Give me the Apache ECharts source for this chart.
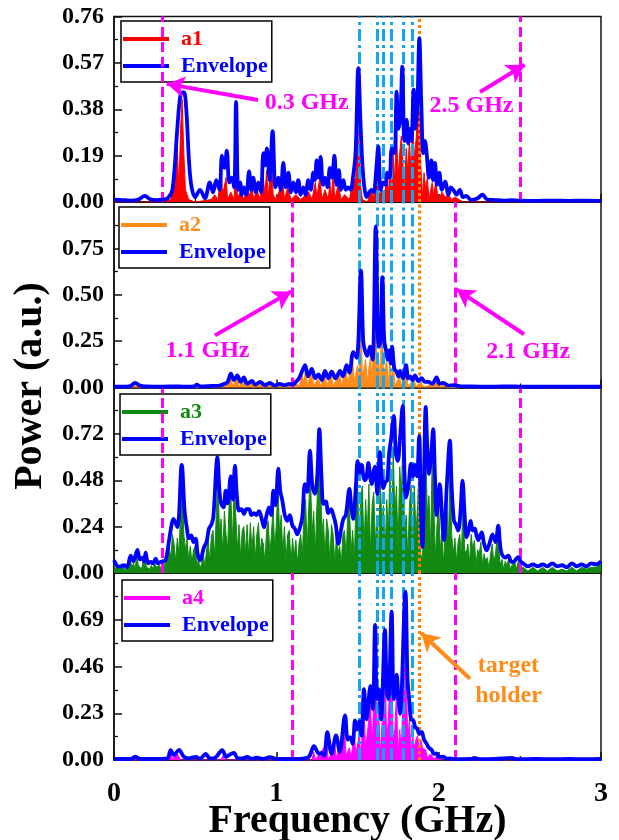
<!DOCTYPE html>
<html><head><meta charset="utf-8">
<script src="https://cdn.jsdelivr.net/npm/echarts@6/dist/echarts.min.js"></script>
<style>html,body{margin:0;padding:0;background:#fff}#c{width:619px;height:840px}</style>
</head><body><div id="c"></div>
<script>
// ---------- axis ticks ----------
const xTicks = [0, 1, 2, 3];
const y1Ticks = [0, 0.19, 0.38, 0.57, 0.76];
const y2Ticks = [0, 0.25, 0.50, 0.75, 1.00];
const y3Ticks = [0, 0.24, 0.48, 0.72, 0.96];
const y4Ticks = [0, 0.23, 0.46, 0.69, 0.92];

// ---------- series names ----------
const seriesNames = ['a1', 'a2', 'a3', 'a4'];

// ---------- panel 1 ----------
const a1 = [[0,0],[0.3,0],[0.35,0.01],[0.38,0.1],[0.39,0.22],[0.40,0.05],[0.41,0.3],[0.42,0.42],[0.43,0.2],[0.44,0.05],[0.46,0.01],[0.5,0],[0.6,0.01],[0.62,0.03],[0.64,0.01],[0.66,0.12],[0.67,0.03],[0.69,0.1],[0.70,0.01],[0.72,0.04],[0.74,0.01],[0.75,0.2],[0.76,0.02],[0.78,0.04],[0.80,0.01],[0.82,0.07],[0.83,0.02],[0.85,0.06],[0.86,0.01],[0.88,0.05],[0.9,0.01],[0.92,0.1],[0.93,0.03],[0.94,0.13],[0.95,0.02],[0.97,0.18],[0.98,0.03],[1.0,0.01],[1.02,0.05],[1.04,0.08],[1.05,0.01],[1.07,0.06],[1.09,0.01],[1.12,0.03],[1.15,0.01],[1.2,0.04],[1.22,0.01],[1.24,0.08],[1.25,0.02],[1.27,0.11],[1.28,0.01],[1.30,0.05],[1.32,0.01],[1.33,0.08],[1.34,0.02],[1.35,0.12],[1.36,0.01],[1.38,0.07],[1.40,0.01],[1.42,0.03],[1.45,0.01],[1.47,0.08],[1.49,0.1],[1.50,0.42],[1.51,0.2],[1.52,0.06],[1.53,0.01],[1.56,0.0],[1.59,0.05],[1.60,0.01],[1.62,0.12],[1.63,0.03],[1.65,0.05],[1.66,0.01],[1.68,0.09],[1.69,0.03],[1.70,0.15],[1.71,0.05],[1.72,0.2],[1.73,0.08],[1.74,0.3],[1.75,0.1],[1.76,0.2],[1.77,0.27],[1.78,0.15],[1.79,0.05],[1.80,0.22],[1.81,0.12],[1.82,0.26],[1.83,0.1],[1.84,0.33],[1.85,0.18],[1.86,0.25],[1.87,0.35],[1.88,0.38],[1.89,0.15],[1.90,0.02],[1.91,0.12],[1.92,0.05],[1.93,0.1],[1.94,0.01],[1.96,0.08],[1.97,0.02],[1.98,0.08],[2.0,0.01],[2.02,0.04],[2.04,0.02],[2.06,0.03],[2.08,0.01],[2.1,0.02],[2.15,0],[3,0]];
const env1 = [[0,0.01],[0.05,0.008],[0.1,0.006],[0.15,0.01],[0.19,0.025],[0.22,0.012],[0.26,0.008],[0.3,0.01],[0.33,0.015],[0.36,0.05],[0.39,0.3],[0.41,0.44],[0.43,0.45],[0.445,0.38],[0.47,0.1],[0.5,0.02],[0.53,0.05],[0.56,0.015],[0.59,0.08],[0.61,0.04],[0.63,0.09],[0.65,0.05],[0.665,0.19],[0.68,0.14],[0.695,0.21],[0.71,0.08],[0.725,0.1],[0.74,0.06],[0.752,0.41],[0.765,0.05],[0.777,0.08],[0.787,0.03],[0.8,0.06],[0.815,0.03],[0.832,0.125],[0.845,0.05],[0.858,0.1],[0.873,0.04],[0.889,0.08],[0.905,0.04],[0.92,0.2],[0.93,0.15],[0.942,0.22],[0.958,0.09],[0.977,0.29],[0.995,0.06],[1.012,0.1],[1.027,0.05],[1.043,0.16],[1.058,0.06],[1.074,0.12],[1.09,0.04],[1.105,0.08],[1.12,0.04],[1.135,0.09],[1.15,0.03],[1.166,0.06],[1.18,0.03],[1.197,0.09],[1.212,0.05],[1.228,0.12],[1.238,0.09],[1.248,0.17],[1.26,0.1],[1.273,0.185],[1.287,0.07],[1.30,0.10],[1.315,0.06],[1.33,0.14],[1.342,0.1],[1.358,0.19],[1.37,0.07],[1.385,0.13],[1.397,0.05],[1.413,0.09],[1.428,0.05],[1.443,0.06],[1.458,0.05],[1.472,0.1],[1.488,0.2],[1.505,0.548],[1.52,0.3],[1.536,0.1],[1.557,0.02],[1.572,0.04],[1.587,0.05],[1.6,0.04],[1.614,0.12],[1.628,0.227],[1.643,0.05],[1.659,0.08],[1.672,0.07],[1.684,0.12],[1.698,0.1],[1.711,0.22],[1.728,0.2],[1.741,0.452],[1.752,0.3],[1.764,0.35],[1.776,0.555],[1.789,0.25],[1.803,0.336],[1.812,0.24],[1.822,0.3],[1.832,0.25],[1.846,0.46],[1.858,0.3],[1.869,0.4],[1.881,0.671],[1.893,0.4],[1.905,0.2],[1.915,0.25],[1.926,0.2],[1.94,0.1],[1.955,0.17],[1.965,0.09],[1.977,0.16],[1.99,0.07],[2.004,0.12],[2.02,0.05],[2.04,0.083],[2.06,0.03],[2.075,0.06],[2.09,0.05],[2.11,0.03],[2.13,0.05],[2.15,0.02],[2.17,0.025],[2.2,0.008],[2.24,0.015],[2.27,0.03],[2.3,0.01],[2.35,0.008],[2.4,0.006],[2.45,0.008],[2.5,0.006],[2.6,0.005],[2.7,0.006],[2.8,0.005],[2.9,0.006],[3.0,0.005]];

// ---------- panel 2 ----------
const a2 = [[0,0],[0.1,0],[0.13,0.015],[0.16,0],[0.5,0],[0.51,0.008],[0.53,0],[0.68,0.005],[0.70,0.02],[0.72,0.06],[0.73,0.01],[0.76,0.05],[0.77,0.005],[0.80,0.04],[0.81,0.005],[0.85,0.025],[0.86,0],[0.9,0.02],[0.92,0],[0.96,0.015],[0.98,0],[1.02,0.01],[1.05,0],[1.12,0.02],[1.14,0.01],[1.16,0.07],[1.17,0.02],[1.18,0.1],[1.19,0.02],[1.22,0.08],[1.23,0.01],[1.26,0.05],[1.27,0.005],[1.30,0.07],[1.31,0.01],[1.34,0.07],[1.35,0.01],[1.39,0.07],[1.40,0.01],[1.43,0.1],[1.44,0.02],[1.47,0.15],[1.48,0.03],[1.50,0.12],[1.51,0.02],[1.52,0.5],[1.53,0.05],[1.55,0.15],[1.56,0.03],[1.58,0.17],[1.59,0.02],[1.61,0.7],[1.62,0.08],[1.63,0.15],[1.64,0.02],[1.65,0.45],[1.66,0.05],[1.68,0.15],[1.69,0.02],[1.70,0.14],[1.71,0.04],[1.72,0.16],[1.73,0.01],[1.76,0.06],[1.77,0.01],[1.80,0.09],[1.81,0.01],[1.85,0.04],[1.86,0.005],[1.89,0.03],[1.91,0],[1.99,0.035],[2.01,0],[2.03,0.015],[2.05,0],[3,0]];
const env2 = [[0,0.005],[0.05,0.005],[0.1,0.008],[0.13,0.025],[0.16,0.01],[0.2,0.006],[0.3,0.005],[0.4,0.006],[0.45,0.004],[0.5,0.008],[0.51,0.015],[0.53,0.006],[0.6,0.008],[0.65,0.01],[0.68,0.02],[0.70,0.03],[0.72,0.075],[0.74,0.04],[0.76,0.065],[0.78,0.03],[0.80,0.055],[0.82,0.02],[0.85,0.035],[0.87,0.015],[0.9,0.03],[0.93,0.012],[0.96,0.025],[0.99,0.01],[1.02,0.02],[1.05,0.012],[1.08,0.02],[1.1,0.015],[1.12,0.03],[1.14,0.05],[1.16,0.09],[1.177,0.12],[1.195,0.06],[1.218,0.1],[1.24,0.05],[1.259,0.07],[1.28,0.04],[1.30,0.09],[1.32,0.05],[1.341,0.085],[1.365,0.05],[1.392,0.09],[1.41,0.06],[1.433,0.12],[1.45,0.08],[1.474,0.19],[1.495,0.16],[1.521,0.63],[1.535,0.25],[1.546,0.2],[1.56,0.17],[1.577,0.22],[1.593,0.15],[1.612,0.868],[1.625,0.3],[1.632,0.22],[1.642,0.25],[1.653,0.595],[1.665,0.25],[1.676,0.2],[1.686,0.15],[1.696,0.2],[1.705,0.13],[1.713,0.22],[1.727,0.1],[1.741,0.085],[1.752,0.06],[1.762,0.09],[1.78,0.05],[1.799,0.12],[1.812,0.05],[1.823,0.06],[1.838,0.04],[1.854,0.065],[1.875,0.035],[1.895,0.05],[1.915,0.03],[1.936,0.03],[1.96,0.02],[1.987,0.055],[2.005,0.02],[2.029,0.025],[2.06,0.01],[2.09,0.012],[2.15,0.006],[2.2,0.006],[2.3,0.004],[2.4,0.006],[2.5,0.005],[2.6,0.004],[2.7,0.005],[2.8,0.004],[2.9,0.005],[3,0.004]];

// ---------- panel 3 ----------
const a3 = [[0.00,0.05],[0.01,0.02],[0.02,0.04],[0.03,0.01],[0.04,0.03],[0.05,0.02],[0.06,0.03],[0.07,0.01],[0.08,0.02],[0.09,0.05],[0.10,0.07],[0.11,0.03],[0.12,0.05],[0.13,0.02],[0.14,0.09],[0.15,0.04],[0.16,0.05],[0.17,0.02],[0.18,0.06],[0.19,0.08],[0.20,0.03],[0.21,0.04],[0.22,0.02],[0.23,0.04],[0.24,0.02],[0.25,0.05],[0.26,0.03],[0.27,0.02],[0.28,0.04],[0.29,0.02],[0.30,0.03],[0.31,0.04],[0.32,0.05],[0.33,0.09],[0.34,0.13],[0.35,0.08],[0.36,0.2],[0.37,0.15],[0.38,0.06],[0.39,0.18],[0.40,0.1],[0.41,0.3],[0.42,0.48],[0.43,0.2],[0.44,0.12],[0.45,0.18],[0.46,0.06],[0.47,0.14],[0.48,0.05],[0.49,0.12],[0.50,0.14],[0.51,0.04],[0.52,0.07],[0.53,0.02],[0.54,0.05],[0.55,0.1],[0.56,0.03],[0.57,0.12],[0.58,0.17],[0.59,0.06],[0.60,0.19],[0.61,0.22],[0.62,0.08],[0.63,0.3],[0.64,0.5],[0.65,0.2],[0.66,0.28],[0.67,0.1],[0.68,0.32],[0.69,0.2],[0.70,0.12],[0.71,0.38],[0.72,0.4],[0.73,0.15],[0.74,0.45],[0.75,0.3],[0.76,0.12],[0.77,0.25],[0.78,0.08],[0.79,0.22],[0.80,0.24],[0.81,0.1],[0.82,0.25],[0.83,0.08],[0.84,0.26],[0.85,0.12],[0.86,0.24],[0.87,0.07],[0.88,0.2],[0.89,0.26],[0.90,0.1],[0.91,0.18],[0.92,0.15],[0.93,0.05],[0.94,0.22],[0.95,0.27],[0.96,0.1],[0.97,0.2],[0.98,0.35],[0.99,0.12],[1.00,0.25],[1.01,0.45],[1.02,0.2],[1.03,0.3],[1.04,0.1],[1.05,0.24],[1.06,0.06],[1.07,0.2],[1.08,0.22],[1.09,0.05],[1.10,0.18],[1.11,0.08],[1.12,0.17],[1.13,0.05],[1.14,0.15],[1.15,0.2],[1.16,0.08],[1.17,0.3],[1.18,0.38],[1.19,0.12],[1.20,0.35],[1.21,0.52],[1.22,0.2],[1.23,0.32],[1.24,0.1],[1.25,0.35],[1.26,0.55],[1.27,0.6],[1.28,0.2],[1.29,0.28],[1.30,0.08],[1.31,0.28],[1.32,0.22],[1.33,0.06],[1.34,0.25],[1.35,0.2],[1.36,0.05],[1.37,0.18],[1.38,0.1],[1.39,0.14],[1.40,0.04],[1.41,0.2],[1.42,0.22],[1.43,0.08],[1.44,0.3],[1.45,0.36],[1.46,0.1],[1.47,0.22],[1.48,0.06],[1.49,0.35],[1.50,0.48],[1.51,0.15],[1.52,0.4],[1.53,0.45],[1.54,0.12],[1.55,0.38],[1.56,0.2],[1.57,0.46],[1.58,0.1],[1.59,0.35],[1.60,0.42],[1.61,0.15],[1.62,0.3],[1.63,0.08],[1.64,0.5],[1.65,0.25],[1.66,0.35],[1.67,0.1],[1.68,0.38],[1.69,0.2],[1.70,0.55],[1.71,0.15],[1.72,0.65],[1.73,0.3],[1.74,0.45],[1.75,0.12],[1.76,0.55],[1.77,0.4],[1.78,0.7],[1.79,0.2],[1.80,0.3],[1.81,0.08],[1.82,0.35],[1.83,0.45],[1.84,0.12],[1.85,0.45],[1.86,0.2],[1.87,0.35],[1.88,0.58],[1.89,0.1],[1.90,0.05],[1.91,0.35],[1.92,0.7],[1.93,0.3],[1.94,0.4],[1.95,0.12],[1.96,0.6],[1.97,0.35],[1.98,0.08],[1.99,0.25],[2.00,0.36],[2.01,0.12],[2.02,0.2],[2.03,0.05],[2.04,0.2],[2.05,0.35],[2.06,0.15],[2.07,0.55],[2.08,0.2],[2.09,0.1],[2.10,0.18],[2.11,0.06],[2.12,0.16],[2.13,0.2],[2.14,0.08],[2.15,0.38],[2.16,0.12],[2.17,0.1],[2.18,0.15],[2.19,0.05],[2.20,0.2],[2.21,0.12],[2.22,0.17],[2.23,0.04],[2.24,0.12],[2.25,0.1],[2.26,0.16],[2.27,0.04],[2.28,0.1],[2.29,0.06],[2.30,0.08],[2.31,0.02],[2.32,0.1],[2.33,0.15],[2.34,0.05],[2.35,0.1],[2.36,0.18],[2.37,0.12],[2.38,0.04],[2.39,0.07],[2.40,0.02],[2.41,0.06],[2.42,0.04],[2.43,0.07],[2.44,0.02],[2.45,0.04],[2.46,0.03],[2.47,0.05],[2.48,0.02],[2.49,0.06],[2.50,0.02],[2.52,0.03],[2.55,0.01],[2.58,0.03],[2.61,0.01],[2.64,0.03],[2.67,0.01],[2.70,0.03],[2.73,0.01],[2.76,0.02],[2.79,0.01],[2.82,0.03],[2.85,0.01],[2.88,0.03],[2.91,0.02],[2.94,0.03],[2.97,0.03],[3.00,0.05]];
const env3 = [[0,0.066],[0.031,0.032],[0.062,0.04],[0.08,0.03],[0.103,0.09],[0.12,0.06],[0.144,0.12],[0.16,0.07],[0.175,0.08],[0.185,0.06],[0.195,0.105],[0.21,0.05],[0.226,0.057],[0.24,0.05],[0.257,0.074],[0.27,0.05],[0.287,0.057],[0.3,0.06],[0.318,0.066],[0.339,0.168],[0.355,0.25],[0.366,0.28],[0.39,0.237],[0.417,0.56],[0.435,0.32],[0.448,0.237],[0.462,0.18],[0.476,0.195],[0.49,0.16],[0.503,0.178],[0.515,0.1],[0.53,0.066],[0.554,0.133],[0.57,0.16],[0.585,0.23],[0.6,0.25],[0.612,0.29],[0.637,0.60],[0.65,0.42],[0.661,0.357],[0.675,0.34],[0.688,0.426],[0.70,0.36],[0.719,0.50],[0.732,0.38],[0.745,0.555],[0.757,0.4],[0.77,0.323],[0.785,0.33],[0.80,0.306],[0.815,0.33],[0.832,0.33],[0.847,0.3],[0.862,0.31],[0.878,0.3],[0.893,0.32],[0.91,0.28],[0.924,0.237],[0.94,0.3],[0.955,0.34],[0.968,0.3],[0.982,0.426],[0.995,0.35],[1.012,0.54],[1.025,0.42],[1.037,0.375],[1.052,0.3],[1.068,0.27],[1.083,0.3],[1.099,0.245],[1.114,0.23],[1.129,0.20],[1.146,0.237],[1.16,0.29],[1.176,0.46],[1.19,0.42],[1.207,0.633],[1.222,0.45],[1.238,0.41],[1.252,0.5],[1.265,0.745],[1.278,0.5],[1.29,0.357],[1.305,0.37],[1.32,0.31],[1.337,0.33],[1.351,0.3],[1.366,0.25],[1.382,0.15],[1.398,0.22],[1.413,0.28],[1.428,0.3],[1.45,0.435],[1.462,0.34],[1.474,0.28],[1.49,0.45],[1.501,0.58],[1.514,0.52],[1.526,0.56],[1.536,0.5],[1.546,0.48],[1.556,0.5],[1.567,0.57],[1.577,0.5],[1.587,0.46],[1.597,0.52],[1.608,0.55],[1.615,0.48],[1.622,0.41],[1.638,0.625],[1.648,0.5],[1.659,0.44],[1.671,0.47],[1.683,0.48],[1.695,0.62],[1.708,0.7],[1.724,0.813],[1.736,0.62],[1.748,0.58],[1.762,0.7],[1.778,0.865],[1.79,0.5],[1.799,0.39],[1.814,0.45],[1.829,0.564],[1.842,0.5],[1.854,0.56],[1.866,0.5],[1.88,0.71],[1.89,0.35],[1.9,0.134],[1.91,0.5],[1.92,0.86],[1.93,0.65],[1.94,0.513],[1.953,0.6],[1.966,0.745],[1.977,0.5],[1.987,0.3],[1.997,0.38],[2.007,0.46],[2.02,0.3],[2.032,0.17],[2.05,0.45],[2.069,0.685],[2.08,0.45],[2.094,0.27],[2.107,0.25],[2.12,0.22],[2.133,0.3],[2.147,0.478],[2.16,0.3],[2.172,0.185],[2.185,0.22],[2.197,0.27],[2.21,0.22],[2.223,0.23],[2.234,0.19],[2.244,0.17],[2.254,0.19],[2.264,0.21],[2.28,0.15],[2.295,0.117],[2.312,0.15],[2.332,0.2],[2.35,0.16],[2.367,0.245],[2.378,0.15],[2.388,0.1],[2.41,0.08],[2.429,0.09],[2.445,0.06],[2.46,0.057],[2.475,0.07],[2.49,0.082],[2.505,0.06],[2.52,0.05],[2.55,0.035],[2.58,0.045],[2.61,0.035],[2.64,0.045],[2.67,0.035],[2.7,0.05],[2.73,0.035],[2.76,0.04],[2.79,0.03],[2.82,0.05],[2.85,0.035],[2.88,0.045],[2.91,0.035],[2.94,0.05],[2.97,0.045],[3.0,0.06]];

// ---------- panel 4 ----------
const a4 = [[0,0],[0.33,0],[0.35,0.03],[0.36,0.005],[0.39,0.03],[0.41,0],[0.66,0],[0.67,0.02],[0.68,0],[1.22,0],[1.23,0.04],[1.24,0],[1.31,0.08],[1.32,0],[1.36,0.07],[1.37,0.01],[1.42,0.14],[1.43,0.02],[1.45,0.06],[1.46,0.01],[1.48,0.12],[1.49,0.03],[1.51,0.12],[1.52,0.02],[1.54,0.25],[1.55,0.05],[1.57,0.2],[1.58,0.28],[1.59,0.05],[1.60,0.3],[1.61,0.5],[1.62,0.1],[1.63,0.25],[1.64,0.02],[1.66,0.3],[1.67,0.45],[1.68,0.08],[1.69,0.2],[1.70,0.4],[1.71,0.55],[1.72,0.1],[1.73,0.15],[1.74,0.32],[1.75,0.02],[1.76,0.15],[1.77,0.05],[1.78,0.3],[1.79,0.6],[1.80,0.4],[1.81,0.1],[1.82,0.2],[1.83,0.02],[1.84,0.12],[1.85,0.06],[1.86,0.1],[1.87,0.12],[1.88,0.04],[1.89,0.1],[1.90,0.06],[1.92,0.05],[1.93,0.01],[1.95,0.03],[1.97,0.005],[1.99,0.02],[2.01,0],[3,0]];
const env4 = [[0,0.005],[0.1,0.005],[0.133,0.016],[0.16,0.005],[0.3,0.006],[0.33,0.008],[0.349,0.049],[0.37,0.024],[0.40,0.05],[0.43,0.016],[0.46,0.008],[0.503,0.015],[0.53,0.006],[0.565,0.03],[0.59,0.008],[0.62,0.01],[0.667,0.049],[0.69,0.015],[0.7,0.02],[0.739,0.035],[0.76,0.01],[0.79,0.008],[0.82,0.015],[0.85,0.006],[0.88,0.012],[0.92,0.005],[0.96,0.014],[1.0,0.006],[1.05,0.005],[1.1,0.005],[1.15,0.006],[1.2,0.015],[1.232,0.068],[1.263,0.032],[1.28,0.035],[1.295,0.02],[1.314,0.137],[1.34,0.03],[1.368,0.121],[1.39,0.04],[1.423,0.219],[1.44,0.1],[1.454,0.113],[1.47,0.08],[1.485,0.195],[1.498,0.15],[1.511,0.19],[1.525,0.12],[1.54,0.349],[1.556,0.2],[1.58,0.365],[1.595,0.25],[1.608,0.665],[1.62,0.3],[1.632,0.349],[1.645,0.2],[1.669,0.64],[1.68,0.35],[1.69,0.3],[1.71,0.73],[1.724,0.3],[1.741,0.42],[1.752,0.3],[1.762,0.227],[1.795,0.828],[1.808,0.4],[1.818,0.3],[1.83,0.2],[1.844,0.195],[1.856,0.16],[1.868,0.154],[1.88,0.13],[1.895,0.138],[1.91,0.1],[1.926,0.08],[1.94,0.06],[1.957,0.049],[1.97,0.03],[1.987,0.032],[2.0,0.015],[2.03,0.016],[2.05,0.006],[2.07,0.008],[2.1,0.004],[2.2,0.005],[2.22,0.01],[2.25,0.004],[2.35,0.005],[2.45,0.01],[2.48,0.004],[2.6,0.005],[2.7,0.004],[2.8,0.005],[2.9,0.004],[3.0,0.005]];

// ---------- reference lines (GHz) ----------
const cyanLines = [1.51, 1.62, 1.66, 1.71, 1.78, 1.84];
const holderLine = [1.88];
const bandLines = [[0.3, 2.5], [1.1, 2.1], [0.3, 2.5], [1.1, 2.1]];

// ---------- annotations (data coordinates) ----------
const annotations = [
  [{text:'0.3 GHz', at:[1.187,0.406], from:[0.887,0.418], to:[0.325,0.484]},
   {text:'2.5 GHz', at:[2.202,0.394], from:[2.255,0.451], to:[2.53,0.562]}],
  [{text:'1.1 GHz', at:[0.576,0.20], from:[0.622,0.281], to:[1.092,0.518]},
   {text:'2.1 GHz', at:[2.552,0.19], from:[2.526,0.287], to:[2.11,0.529]}],
  [],
  [{text:'target\nholder', at:[2.43,0.39], from:[2.193,0.40], to:[1.892,0.625], color:'#ff8c1a'}]
];

// ---------- styles ----------
const FONT = '"Times New Roman","Liberation Serif",serif';
const fillColors = ['#ff0000', '#ff8c1a', '#128a12', '#ff00ff'];
const envColor = '#0000ff';
const gridTops = [16.5, 202, 387.5, 573];
const gridHeights = [185.5, 185.5, 185.5, 187];
const legendPos = [[121,21],[119,207],[120,394],[122,580]];
const fills = [a1, a2, a3, a4];
const envs = [env1, env2, env3, env4];
const yTicksAll = [y1Ticks, y2Ticks, y3Ticks, y4Ticks];

const grids = [], xAxes = [], yAxes = [], series = [], legends = [];
for (let i = 0; i < 4; i++) {
  grids.push({left:114, right:18, top:gridTops[i], height:gridHeights[i], show:true,
    borderColor:'#111', borderWidth:1.5, backgroundColor:'transparent', outerBoundsMode:'none'});
  xAxes.push({type:'value', gridIndex:i, min:xTicks[0], max:xTicks[xTicks.length-1], interval:xTicks[1]-xTicks[0],
    axisLine:{show:true, onZero:false, lineStyle:{color:'#111', width:1.5}},
    axisTick:{show:true, inside:true, length:8, lineStyle:{color:'#111', width:1.5}},
    minorTick:{show:true, splitNumber:2, length:4, lineStyle:{color:'#111', width:1.3}},
    splitLine:{show:false},
    axisLabel:{show:i===3, fontFamily:FONT, fontWeight:'bold', fontSize:28, color:'#000', margin:20},
    name: i===3 ? 'Frequency (GHz)' : '', nameLocation:'middle', nameGap:42, nameMoveOverlap:false,
    nameTextStyle:{fontFamily:FONT, fontWeight:'bold', fontSize:40, color:'#000'}});
  const yt = yTicksAll[i], ymax = yt[yt.length-1];
  yAxes.push({type:'value', gridIndex:i, min:yt[0], max:ymax, interval:yt[1]-yt[0],
    axisLine:{show:true, lineStyle:{color:'#111', width:1.5}},
    axisTick:{show:true, inside:true, length:8, lineStyle:{color:'#111', width:1.5}},
    minorTick:{show:true, splitNumber:2, length:4, lineStyle:{color:'#111', width:1.3}},
    splitLine:{show:false},
    axisLabel:{fontFamily:FONT, fontWeight:'bold', fontSize:24, color:'#000', margin:10,
      formatter: v => (i > 0 && Math.abs(v - ymax) < 1e-9) ? '' : v.toFixed(2)}});

  const mlData = [];
  bandLines[i].forEach(v => mlData.push({xAxis:v, lineStyle:{color:'#ff00ff', width:3, type:[10,5]}}));
  cyanLines.forEach(v => mlData.push({xAxis:v, lineStyle:{color:'#12a6f0', width:3, type:[12,4,3,4]}}));
  holderLine.forEach(v => mlData.push({xAxis:v, lineStyle:{color:'#ff8000', width:3, type:[3,3]}}));

  series.push({type:'line', name:seriesNames[i], xAxisIndex:i, yAxisIndex:i, data:fills[i],
    symbol:'none', showSymbol:false, color:fillColors[i], itemStyle:{color:fillColors[i]},
    lineStyle:{width:1, color:fillColors[i]}, areaStyle:{color:fillColors[i], opacity:1}, z:2,
    markLine:{silent:true, symbol:['none','none'], label:{show:false}, data:mlData}});

  const arrowData = [], textData = [];
  annotations[i].forEach(a => {
    const c = a.color || '#ff00ff';
    arrowData.push([{coord:a.from, symbol:'none', lineStyle:{color:c, width:4, type:'solid'}},
                    {coord:a.to, symbol:'arrow', symbolSize:[16,18]}]);
    textData.push({name:a.text, coord:a.at, symbol:'rect', symbolSize:1, itemStyle:{color:'rgba(0,0,0,0)'},
      label:{show:true, position:'inside', formatter:'{b}', color:c, fontFamily:FONT, fontWeight:'bold', fontSize:24, lineHeight:30}});
  });

  series.push({type:'line', name:'Envelope', xAxisIndex:i, yAxisIndex:i, data:envs[i],
    symbol:'none', showSymbol:false, smooth:0.35, color:envColor, itemStyle:{color:envColor},
    lineStyle:{width:3.8, color:envColor}, z:6,
    markLine:{silent:true, symbol:['none','none'], label:{show:false}, data:arrowData, z:8},
    markPoint:{silent:true, data:textData, z:8}});

  legends.push({left:legendPos[i][0], top:legendPos[i][1], orient:'vertical', selectedMode:false,
    icon:'rect', itemWidth:46, itemHeight:4, itemGap:5, padding:[7,4,5,2],
    borderColor:'#000', borderWidth:1.5, backgroundColor:'#fff',
    textStyle:{fontFamily:FONT, fontWeight:'bold', fontSize:22, padding:[0,0,0,7]},
    data:[{name:seriesNames[i], itemStyle:{color:fillColors[i]}, textStyle:{color:fillColors[i]}},
          {name:'Envelope', itemStyle:{color:envColor}, textStyle:{color:envColor}}]});
}

const chart = echarts.init(document.getElementById('c'), null, {renderer:'canvas'});
chart.setOption({
  animation:false,
  backgroundColor:'#fff',
  grid:grids, xAxis:xAxes, yAxis:yAxes, series:series, legend:legends,
  graphic:[{type:'text', x:31, y:386, rotation:Math.PI/2,
    style:{text:'Power (a.u.)', font:'bold 40px ' + FONT, fill:'#000', textAlign:'center', textVerticalAlign:'middle'}}]
});
</script></body></html>
